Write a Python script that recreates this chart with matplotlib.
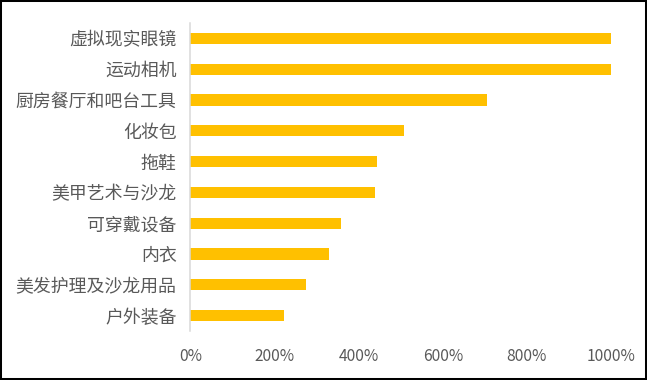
import matplotlib
matplotlib.use("Agg")
import matplotlib.pyplot as plt
from matplotlib.patches import Rectangle
from matplotlib.ticker import FuncFormatter
import numpy as np

plt.rcParams['font.family'] = ['Noto Sans CJK SC', 'DejaVu Sans']

categories = ["虚拟现实眼镜", "运动相机", "厨房餐厅和吧台工具", "化妆包", "拖鞋",
              "美甲艺术与沙龙", "可穿戴设备", "内衣", "美发护理及沙龙用品", "户外装备"]
values = [1000, 1000, 705, 508, 443, 439, 358, 329, 275, 222]
xticks = [0, 200, 400, 600, 800, 1000]

W, H = 647, 380
fig = plt.figure(figsize=(W / 100, H / 100), dpi=100)
ax = fig.add_axes([190.5 / W, 1 - 331 / H, (611 - 190.5) / W, (331 - 23) / H])

y = np.arange(len(categories))
ax.barh(y, values, height=0.36, color="#FFC000", zorder=2)
ax.set_yticks(y)
ax.set_yticklabels(categories, fontsize=12.9, color="#595959")
ax.set_ylim(len(categories) - 0.5, -0.5)
ax.set_xlim(0, 1000)
ax.set_xticks(xticks)
ax.xaxis.set_major_formatter(FuncFormatter(lambda v, p: f"{int(v)}%"))
for lab in ax.get_xticklabels():
    lab.set_fontsize(11.2)
    lab.set_color("#595959")
ax.tick_params(axis='both', length=0)
ax.tick_params(axis='y', pad=10)
ax.tick_params(axis='x', pad=12)
for s in ['top', 'right', 'bottom']:
    ax.spines[s].set_visible(False)
ax.spines['left'].set_color("#D9D9D9")
ax.spines['left'].set_linewidth(1.1)

fig.patches.append(Rectangle((0, 0), 1, 1, transform=fig.transFigure, fill=False,
                             edgecolor="black", linewidth=2.9, zorder=10))
fig.savefig("out.png", dpi=100, facecolor="white")
